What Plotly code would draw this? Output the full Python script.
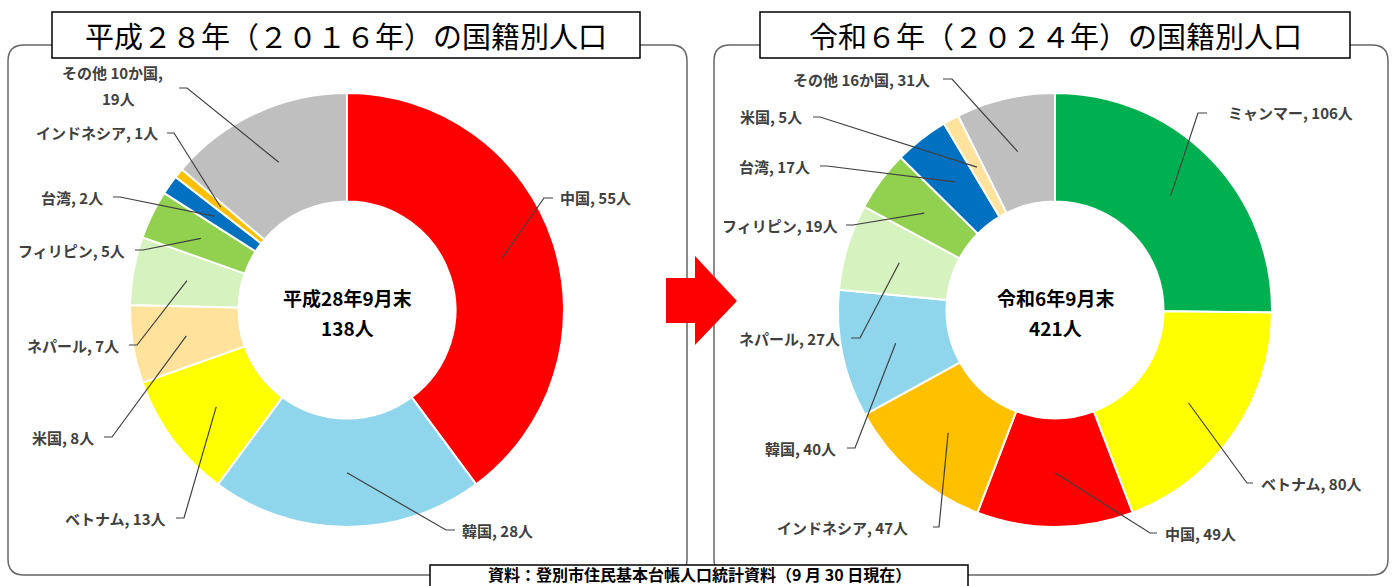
import math
import plotly.graph_objects as go

W, H = 1400, 586

# ---------------- data ----------------
left_names = ["中国", "韓国", "ベトナム", "米国", "ネパール", "フィリピン", "台湾", "インドネシア", "その他 10か国"]
left_values = [55, 28, 13, 8, 7, 5, 2, 1, 19]
left_total = 138

right_names = ["ミャンマー", "ベトナム", "中国", "インドネシア", "韓国", "ネパール", "フィリピン", "台湾", "米国", "その他 16か国"]
right_values = [106, 80, 49, 47, 40, 27, 19, 17, 5, 31]
right_total = 421

left_title = "平成２８年（２０１６年）の国籍別人口"
right_title = "令和６年（２０２４年）の国籍別人口"
left_center = ["平成28年9月末", "138人"]
right_center = ["令和6年9月末", "421人"]
source_text = "資料：登別市住民基本台帳人口統計資料（9 月 30 日現在）"

colors = {
    "中国": "#FF0000", "韓国": "#8FD6EC", "ベトナム": "#FFFF00", "米国": "#FFE29C",
    "ネパール": "#D6F2BE", "フィリピン": "#92D050", "台湾": "#0070C0",
    "インドネシア": "#FFC000", "ミャンマー": "#00B050",
    "その他 10か国": "#BFBFBF", "その他 16か国": "#BFBFBF",
}

# ---------------- layout helpers (pixels -> paper) ----------------
def px(x):
    return x / W

def py(y):
    return 1 - y / H

HOLE = 0.5
R = 217
LC = (347, 310)
RC = (1055, 310)

# label layout: (elbow_x, elbow_y, stub_x, stub_y, text_x, anchor)
left_layout = [
    (544, 198, 553, 198, 558, "left"),
    (446, 530, 455, 530, 460, "left"),
    (184, 518, 176, 518, 168, "right"),
    (112, 437, 104, 437, 96, "right"),
    (137, 345, 129, 345, 121, "right"),
    (143, 250, 135, 250, 127, "right"),
    (120, 197, 113, 197, 105, "right"),
    (174, 133, 167, 133, 160, "right"),
    (187, 88, 179, 88, 112, "center"),
]
right_layout = [
    (1198, 113, 1207, 113, 1226, "left"),
    (1247, 483, 1253, 483, 1259, "left"),
    (1150, 533, 1157, 533, 1163, "left"),
    (939, 527, 933, 527, 910, "right"),
    (855, 448, 847, 448, 838, "right"),
    (860, 338, 851, 338, 842, "right"),
    (853, 225, 846, 225, 840, "right"),
    (827, 166, 820, 166, 812, "right"),
    (820, 117, 813, 117, 804, "right"),
    (952, 79, 943, 79, 932, "right"),
]

fig = go.Figure()

def add_pie(names, values, center):
    cx, cy = center
    fig.add_trace(go.Pie(
        labels=names, values=values, hole=HOLE, sort=False, direction="clockwise",
        rotation=0, textinfo="none", hoverinfo="label+value",
        marker=dict(colors=[colors[n] for n in names], line=dict(color="white", width=2)),
        domain=dict(x=[px(cx - R), px(cx + R)], y=[py(cy + R), py(cy - R)]),
        showlegend=False,
    ))

add_pie(left_names, left_values, LC)
add_pie(right_names, right_values, RC)

shapes = []
annotations = []

def rounded_rect(x0, y0, x1, y1, r):
    p = (f"M {px(x0 + r)} {py(y0)} L {px(x1 - r)} {py(y0)} Q {px(x1)} {py(y0)} {px(x1)} {py(y0 + r)} "
         f"L {px(x1)} {py(y1 - r)} Q {px(x1)} {py(y1)} {px(x1 - r)} {py(y1)} "
         f"L {px(x0 + r)} {py(y1)} Q {px(x0)} {py(y1)} {px(x0)} {py(y1 - r)} "
         f"L {px(x0)} {py(y0 + r)} Q {px(x0)} {py(y0)} {px(x0 + r)} {py(y0)} Z")
    return dict(type="path", xref="paper", yref="paper", path=p,
                line=dict(color="#666666", width=1.5), fillcolor="rgba(0,0,0,0)", layer="below")

shapes.append(rounded_rect(8, 45, 687, 575, 16))
shapes.append(rounded_rect(714, 45, 1388, 575, 16))

def box(x0, y0, x1, y1):
    return dict(type="rect", xref="paper", yref="paper", x0=px(x0), x1=px(x1), y0=py(y1), y1=py(y0),
                line=dict(color="#000000", width=1.5), fillcolor="white", layer="above")

shapes.append(box(52, 12, 640, 58))
shapes.append(box(760, 12, 1350, 58))
shapes.append(box(430, 565, 968, 600))

# arrow
arrow_pts = [(666, 278), (695, 278), (695, 256), (737, 301), (695, 345), (695, 323), (666, 323)]
ap = "M " + " L ".join(f"{px(x)} {py(y)}" for x, y in arrow_pts) + " Z"
shapes.append(dict(type="path", xref="paper", yref="paper", path=ap, fillcolor="#FF0000",
                   line=dict(color="#FF0000", width=0), layer="above"))

label_font = dict(family="Noto Sans CJK JP", size=15, color="#404040")

def add_leaders(names, values, total, center, layout_list, multiline_last=False):
    cx, cy = center
    rm = R * (1 + HOLE) / 2
    cum = 0
    for i, (n, v) in enumerate(zip(names, values)):
        th = (cum + v / 2) / total * 2 * math.pi
        cum += v
        ax = cx + rm * math.sin(th)
        ay = cy - rm * math.cos(th)
        ex, ey, sx, sy, tx, anc = layout_list[i]
        path = f"M {px(ax)} {py(ay)} L {px(ex)} {py(ey)} L {px(sx)} {py(sy)}"
        shapes.append(dict(type="path", xref="paper", yref="paper", path=path,
                           line=dict(color="#404040", width=1.2), layer="above"))
        if multiline_last and n.startswith("その他"):
            annotations.append(dict(x=px(tx), y=py(73), xref="paper", yref="paper", text=f"<b>{n},</b>",
                                    showarrow=False, xanchor="center", yanchor="middle", font=label_font))
            annotations.append(dict(x=px(tx + 6), y=py(98), xref="paper", yref="paper", text=f"<b>{v}人</b>",
                                    showarrow=False, xanchor="center", yanchor="middle", font=label_font))
        else:
            text = f"<b>{n}, {v}人</b>"
            annotations.append(dict(x=px(tx), y=py(sy), xref="paper", yref="paper", text=text,
                                    showarrow=False, xanchor=anc, yanchor="middle", font=label_font))

add_leaders(left_names, left_values, left_total, LC, left_layout, multiline_last=True)
add_leaders(right_names, right_values, right_total, RC, right_layout)

title_font = dict(family="Noto Sans CJK JP", size=29, color="#000000")
annotations.append(dict(x=px(346), y=py(35), xref="paper", yref="paper", text=left_title,
                        showarrow=False, xanchor="center", yanchor="middle", font=title_font))
annotations.append(dict(x=px(1055), y=py(35), xref="paper", yref="paper", text=right_title,
                        showarrow=False, xanchor="center", yanchor="middle", font=title_font))

center_font = dict(family="Noto Sans CJK JP", size=19, color="#000000")
for cx, lines in ((LC[0], left_center), (RC[0], right_center)):
    annotations.append(dict(x=px(cx), y=py(297), xref="paper", yref="paper", text=f"<b>{lines[0]}</b>",
                            showarrow=False, xanchor="center", yanchor="middle", font=center_font))
    annotations.append(dict(x=px(cx), y=py(327), xref="paper", yref="paper", text=f"<b>{lines[1]}</b>",
                            showarrow=False, xanchor="center", yanchor="middle", font=center_font))

annotations.append(dict(x=px(699), y=py(574), xref="paper", yref="paper", text=f"<b>{source_text}</b>",
                        showarrow=False, xanchor="center", yanchor="middle",
                        font=dict(family="Noto Sans CJK JP", size=16, color="#000000")))

fig.update_layout(
    width=W, height=H, autosize=False,
    margin=dict(l=0, r=0, t=0, b=0),
    paper_bgcolor="white", plot_bgcolor="white",
    shapes=shapes, annotations=annotations,
)

fig.write_html("out.html", config={"displayModeBar": False},
               post_script="document.body.style.margin='0';document.body.style.overflow='hidden';")
